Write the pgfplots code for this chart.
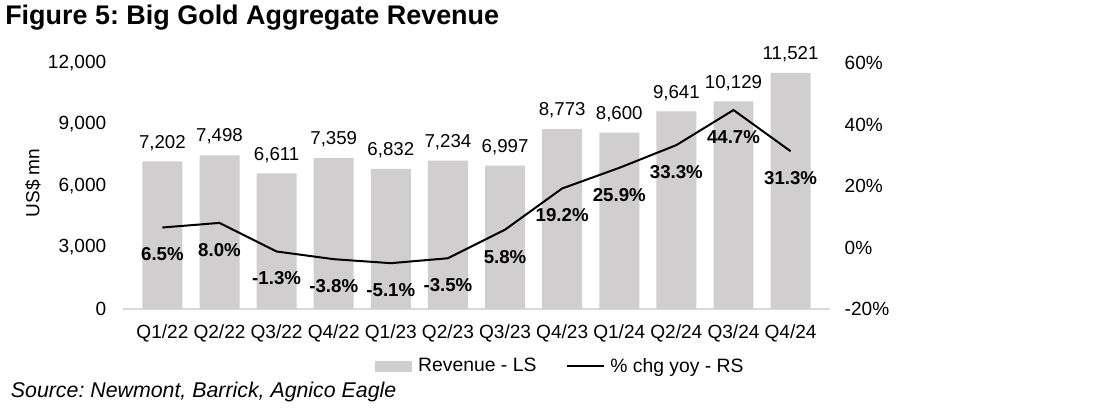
\documentclass[border=0pt]{standalone}
\usepackage{fontspec}
\setmainfont{Liberation Sans}
\usepackage{pgfplots}
\pgfplotsset{compat=1.18}
\definecolor{barcol}{RGB}{208,206,206}
\definecolor{axgray}{RGB}{217,217,217}
\newcommand{\lbl}{\fontsize{14}{16}\selectfont}
\frenchspacing
\begin{document}
\begin{tikzpicture}
\path[use as bounding box] (0,0) rectangle (831pt,312pt);
\node[anchor=base west, inner sep=0pt, font=\fontsize{20.2}{23}\selectfont\bfseries] at (3.75pt,293.25pt) {Figure 5: Big Gold Aggregate Revenue};
\node[anchor=base west, inner sep=0pt, font=\fontsize{16}{18}\selectfont\itshape] at (8pt,13.5pt) {Source: Newmont, Barrick, Agnico Eagle};
\begin{axis}[
  at={(92.25pt,80.25pt)}, anchor=south west,
  width=530.25pt, height=184.5pt, scale only axis,
  xmin=-0.69, xmax=11.69, ymin=0, ymax=12000,
  xtick={0,...,11},
  xticklabels={Q1/22,Q2/22,Q3/22,Q4/22,Q1/23,Q2/23,Q3/23,Q4/23,Q1/24,Q2/24,Q3/24,Q4/24},
  ytick={0,3000,6000,9000,12000},
  scaled y ticks=false,
  axis x line=bottom, axis y line=left, axis line style={-},
  y axis line style={draw=none},
  x axis line style={draw=axgray, line width=1.5pt},
  major tick length=0pt,
  tick label style={font=\fontsize{14.3}{16}\selectfont},
  xticklabel style={yshift=-8.5pt},
  yticklabel style={xshift=-9pt},
  /pgf/number format/1000 sep={,},
  /pgf/number format/assume math mode=true,
  ylabel={US\$ mn},
  every axis y label/.style={at={(axis description cs:-0.1273,0.512)}, rotate=90, anchor=center, font=\fontsize{14.3}{16}\selectfont},
  clip=false,
]
\addplot[ybar, bar width=0.7, fill=barcol, draw=none,
  nodes near coords,
  nodes near coords style={font=\lbl, anchor=center, yshift=14pt}]
  coordinates {(0,7202) (1,7498) (2,6611) (3,7359) (4,6832) (5,7234) (6,6997) (7,8773) (8,8600) (9,9641) (10,10129) (11,11521)};
\end{axis}
\begin{axis}[
  at={(92.25pt,80.25pt)}, anchor=south west,
  width=530.25pt, height=184.5pt, scale only axis,
  xmin=-0.69, xmax=11.69, ymin=-20, ymax=60,
  ytick={-20,0,20,40,60},
  yticklabel={\pgfmathprintnumber{\tick}\%},
  hide x axis,
  axis y line*=right, axis line style={-},
  y axis line style={draw=none},
  major tick length=0pt,
  tick label style={font=\fontsize{14.3}{16}\selectfont},
  yticklabel style={xshift=7.5pt},
  /pgf/number format/assume math mode=true,
  clip=false,
  legend style={at={(0.619,-0.232)}, anchor=center, draw=none, fill=none,
    legend columns=2, font=\fontsize{14.5}{16}\selectfont, inner sep=0pt,
    /tikz/every even column/.append style={column sep=20pt}},
]
\addlegendimage{legend image code/.code={\fill[barcol] (0pt,-3.75pt) rectangle (27pt,3.75pt); \path (30pt,0pt);}}
\addlegendentry{Revenue - LS}
\addlegendimage{legend image code/.code={\draw[black, line width=1.5pt] (0pt,0pt) -- (27.75pt,0pt); \path (30.5pt,0pt);}}
\addlegendentry{\% chg yoy - RS}
\addplot[black, line width=1.5pt, forget plot,
  nodes near coords, point meta=explicit symbolic,
  nodes near coords style={font=\lbl\bfseries, anchor=center, yshift=-20.25pt}]
  coordinates {(0,6.5)[6.5\%] (1,8.0)[8.0\%] (2,-1.3)[-1.3\%] (3,-3.8)[-3.8\%] (4,-5.1)[-5.1\%] (5,-3.5)[-3.5\%] (6,5.8)[5.8\%] (7,19.2)[19.2\%] (8,25.9)[25.9\%] (9,33.3)[33.3\%] (10,44.7)[44.7\%] (11,31.3)[31.3\%]};
\end{axis}
\end{tikzpicture}
\end{document}
